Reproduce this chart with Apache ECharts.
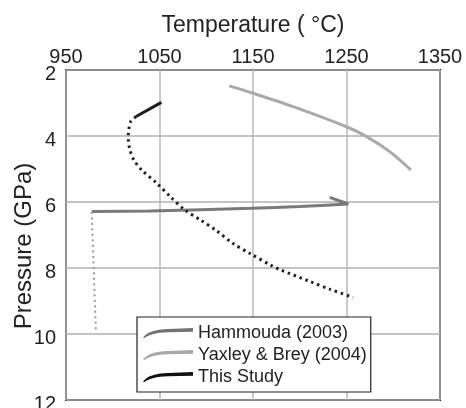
<!DOCTYPE html>
<html><head><meta charset="utf-8">
<script src="https://cdn.jsdelivr.net/npm/echarts@6/dist/echarts.min.js"></script>
<style>html,body{margin:0;padding:0;background:#fff}#c{width:466px;height:408px}</style>
</head><body><div id="c"></div>
<script>
const xTicks = [950, 1050, 1150, 1250, 1350];
const yTicks = [2, 4, 6, 8, 10, 12];
const legendNames = ['Hammouda (2003)', 'Yaxley & Brey (2004)', 'This Study'];
// [Temperature °C, Pressure GPa]
const hammoudaSolid = [[977.5, 6.29], [1040, 6.27], [1148, 6.19], [1200, 6.14], [1252, 6.06]];
const hammoudaArrow = [[1252, 6.06], [1232, 5.86]];
const hammoudaDotted = [[977.5, 6.3], [982, 9.95]];
const yaxley = [[1124.7, 2.48], [1148.6, 2.69], [1193, 3.11], [1250, 3.72], [1271.6, 4.02], [1296.5, 4.48], [1319, 5.03]];
const studySolid = [[1025, 3.41], [1052, 2.98]];
const studyDotted = [[1025, 3.41], [1019.5, 3.55], [1017.7, 3.72], [1016.7, 3.92], [1016.7, 4.1], [1018.4, 4.42], [1022.7, 4.73], [1031, 5.03], [1047, 5.43], [1062, 5.85], [1077, 6.24], [1094, 6.55], [1111, 6.87], [1128.3, 7.25], [1146.8, 7.56], [1170, 7.93], [1178, 8.04], [1211, 8.41], [1232, 8.64], [1257, 8.89]];

const FONT = 'Liberation Sans, Arial, sans-serif';
const swoosh = 'path://M0,12 C4,6 12,4 25,3.2 L50,2.2 L50,5.8 L25,6.3 C14,6.8 6,8.5 1.5,12 Z';
const chart = echarts.init(document.getElementById('c'), null, {renderer: 'canvas'});
chart.setOption({
  animation: false,
  backgroundColor: '#fff',
  grid: {left: 66, right: 26, top: 70, bottom: 8, show: true, borderColor: '#222', borderWidth: 2,
    backgroundColor: 'transparent', containLabel: false, outerBoundsMode: 'none'},
  xAxis: {
    type: 'value', position: 'top', min: xTicks[0], max: xTicks[xTicks.length - 1], interval: 100,
    name: 'Temperature ( °C)', nameLocation: 'middle', nameGap: 33, nameMoveOverlap: false,
    nameTextStyle: {fontFamily: FONT, fontSize: 23, color: '#222'},
    axisLine: {show: false}, axisTick: {show: false},
    axisLabel: {fontFamily: FONT, fontSize: 20, color: '#222', margin: 3, formatter: v => String(v)},
    splitLine: {show: true, lineStyle: {color: '#b8b8b8', width: 1.5}}
  },
  yAxis: {
    type: 'value', inverse: true, min: yTicks[0], max: yTicks[yTicks.length - 1], interval: 2,
    name: 'Pressure (GPa)', nameLocation: 'middle', nameGap: 30, nameMoveOverlap: false,
    nameTextStyle: {fontFamily: FONT, fontSize: 24, color: '#222', padding: [0, 22, 0, 0]},
    axisLine: {show: false}, axisTick: {show: false},
    axisLabel: {fontFamily: FONT, color: '#222', margin: 10, formatter: v => '{a|' + v + '}',
      rich: {a: {fontFamily: FONT, fontSize: 20, color: '#222', padding: [8, 0, 0, 0]}}},
    splitLine: {show: true, lineStyle: {color: '#b0b0b0', width: 1.5}}
  },
  legend: {
    data: legendNames, orient: 'vertical', left: 137, top: 317,
    backgroundColor: '#fff', borderColor: '#222', borderWidth: 1.2,
    padding: [7, 4, 6, 6], itemGap: 4, itemWidth: 50, itemHeight: 12,
    icon: swoosh,
    textStyle: {fontFamily: FONT, fontSize: 18, color: '#222'}
  },
  series: [
    {name: 'Hammouda (2003)', type: 'line', data: hammoudaSolid, smooth: 0.3, symbol: 'none', z: 3,
     itemStyle: {color: '#737373'}, lineStyle: {color: '#7a7a7a', width: 3}},
    {name: 'h-arrow', type: 'line', data: hammoudaArrow, symbol: 'none', z: 3,
     lineStyle: {color: '#7a7a7a', width: 3}},
    {name: 'h-dot', type: 'line', data: hammoudaDotted, symbol: 'none', z: 3,
     lineStyle: {color: '#999', width: 2, type: [2, 3.5]}},
    {name: 'Yaxley & Brey (2004)', type: 'line', data: yaxley, smooth: 0.3, symbol: 'none', z: 3,
     itemStyle: {color: '#a8a8a8'}, lineStyle: {color: '#aaa', width: 3}},
    {name: 'This Study', type: 'line', data: studySolid, symbol: 'none', z: 4,
     itemStyle: {color: '#111'}, lineStyle: {color: '#1e1e1e', width: 3}},
    {name: 's-dot', type: 'line', data: studyDotted, smooth: 0.3, symbol: 'none', z: 4,
     lineStyle: {color: '#222', width: 3, type: [2.5, 3.8]}}
  ]
});
</script></body></html>
